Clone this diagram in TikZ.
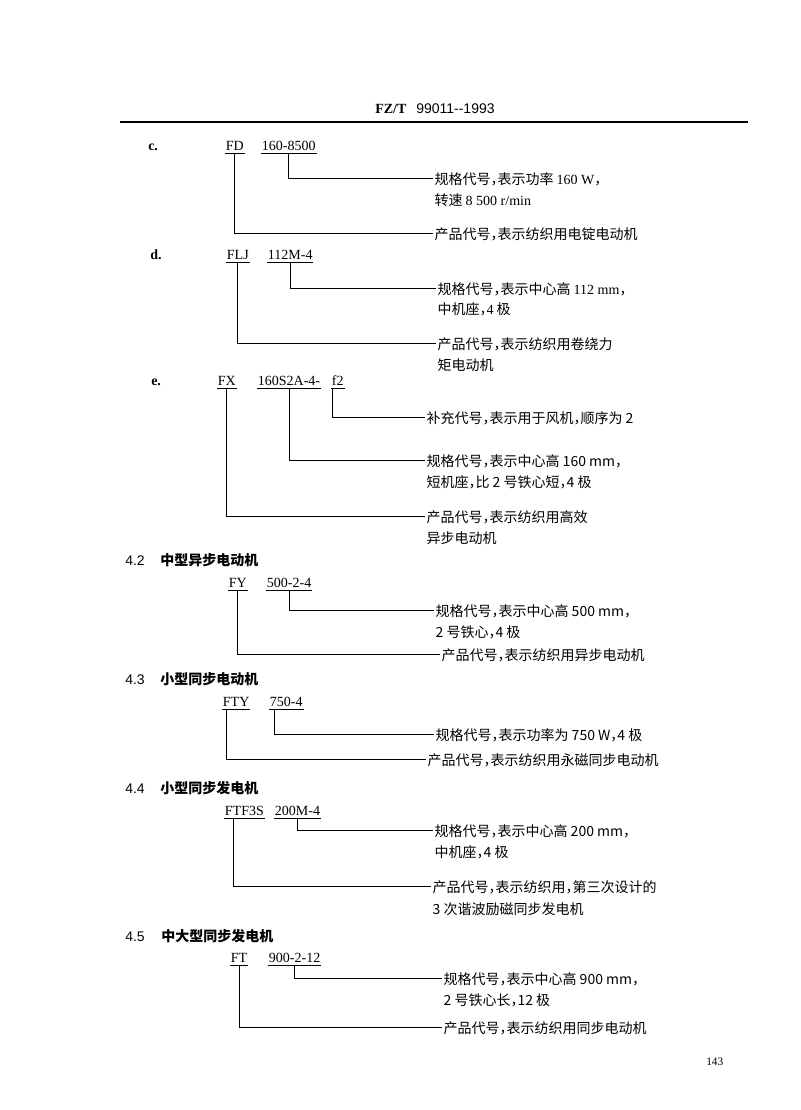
\documentclass[tikz,border=0pt]{standalone}
\usepackage{fontspec}
\setmainfont{Liberation Serif}
\newfontfamily\cjk{Noto Sans CJK SC}
\newfontfamily\latsans{Liberation Sans}
\usetikzlibrary{positioning}
% narrow full-width comma, as set in the standard
\newcommand{\dou}{，\kern-.5em}
\newcommand{\codebox}[3]{%
  \node[code] (#1) at (#2) {#3};
  \draw[uline] (#1.south west) -- (#1.south east);}
\tikzset{
    code/.style={anchor=base west, inner xsep=0.5pt, inner ysep=2.6pt, text depth=0pt,
      font=\fontsize{10.5}{12}\selectfont},
    note/.style={anchor=base west, inner sep=1pt, font=\cjk\fontsize{10.5}{12}\selectfont},
    itemno/.style={anchor=base west, inner sep=0pt, font=\bfseries\fontsize{10.5}{12}\selectfont},
    secno/.style={anchor=base west, inner sep=0pt, font=\latsans\fontsize{10.5}{12}\selectfont},
    sechead/.style={anchor=base west, inner sep=0pt, font=\cjk\bfseries\fontsize{10.5}{12}\selectfont},
    lead/.style={line width=0.6pt},
    uline/.style={line width=0.6pt},
}
\begin{document}
\begin{tikzpicture}[x=0.75pt, y=-0.75pt]
    \useasboundingbox (0,0) rectangle (800,1110);

    % page head
    \node[anchor=base west, inner sep=0pt, font=\bfseries\fontsize{10.5}{12}\selectfont] (hd-a) at (375,113) {FZ/T};
    \node[anchor=base west, inner sep=0pt, font=\latsans\fontsize{10.5}{12}\selectfont] (hd-b) at (416,113) {99011--1993};
    \draw[line width=1pt] (120,122) -- (748,122);

    % c.
    \node[itemno] (c-no) at (148,150) {c.};
    \codebox{c-fd}{225,150}{FD}
    \codebox{c-sc}{261,150}{160-8500}
    \node[note] (c-spec) at (433,184) {规格代号\dou 表示功率 {\rmfamily 160 W}\dou};
    \node[note] (c-spec2) at (433,205) {转速 {\rmfamily 8 500 r/min}};
    \node[note] (c-prod) at (433,239) {产品代号\dou 表示纺织用电锭电动机};
    \draw[lead] (c-sc.south) |- (c-spec.west);
    \draw[lead] (c-fd.south) |- (c-prod.west);

    % d.
    \node[itemno] (d-no) at (150,259) {d.};
    \codebox{d-flj}{226,259}{FLJ}
    \codebox{d-sc}{267,259}{112M-4}
    \node[note] (d-spec) at (436,294) {规格代号\dou 表示中心高 {\rmfamily 112 mm}\dou};
    \node[note] (d-spec2) at (436,314) {中机座\dou {\rmfamily 4} 极};
    \node[note] (d-prod) at (436,349) {产品代号\dou 表示纺织用卷绕力};
    \node[note] (d-prod2) at (436,370) {矩电动机};
    \draw[lead] (d-sc.south) |- (d-spec.west);
    \draw[lead] (d-flj.south) |- (d-prod.west);

    % e.
    \node[itemno] (e-no) at (151,385) {e.};
    \codebox{e-fx}{217,385}{FX}
    \codebox{e-sc}{257,385}{160S2A-4-}
    \codebox{e-f2}{331,385}{f2}
    \node[note] (e-sup) at (425,423) {补充代号\dou 表示用于风机\dou 顺序为 2};
    \node[note] (e-spec) at (425,466) {规格代号\dou 表示中心高 160 mm\dou};
    \node[note] (e-spec2) at (425,487) {短机座\dou 比 2 号铁心短\dou 4 极};
    \node[note] (e-prod) at (425,522) {产品代号\dou 表示纺织用高效};
    \node[note] (e-prod2) at (425,543) {异步电动机};
    \draw[lead] (e-f2.south west) ++(1.5,0) |- (e-sup.west);
    \draw[lead] (e-sc.south) |- (e-spec.west);
    \draw[lead] (e-fx.south) |- (e-prod.west);

    % 4.2
    \node[secno] (s42) at (125,565) {4.2};
    \node[sechead] (s42-t) at (160,565) {中型异步电动机};
    \codebox{fy}{228,587}{FY}
    \codebox{fy-sc}{266,587}{500-2-4}
    \node[note] (fy-spec) at (434,616) {规格代号\dou 表示中心高 500 mm\dou};
    \node[note] (fy-spec2) at (434,637) {2 号铁心\dou 4 极};
    \node[note] (fy-prod) at (440,660) {产品代号\dou 表示纺织用异步电动机};
    \draw[lead] (fy-sc.south) |- (fy-spec.west);
    \draw[lead] (fy.south) |- (fy-prod.west);

    % 4.3
    \node[secno] (s43) at (125,684) {4.3};
    \node[sechead] (s43-t) at (160,684) {小型同步电动机};
    \codebox{fty}{222,706}{FTY}
    \codebox{fty-sc}{269,706}{750-4}
    \node[note] (fty-spec) at (434,740) {规格代号\dou 表示功率为 750 W\dou 4 极};
    \node[note] (fty-prod) at (426,765) {产品代号\dou 表示纺织用永磁同步电动机};
    \draw[lead] (fty-sc.south west) ++(5,0) |- (fty-spec.west);
    \draw[lead] (fty.south west) ++(4,0) |- (fty-prod.west);

    % 4.4
    \node[secno] (s44) at (125,793) {4.4};
    \node[sechead] (s44-t) at (160,793) {小型同步发电机};
    \codebox{ftf}{224,815}{FTF3S}
    \codebox{ftf-sc}{274,815}{200M-4}
    \node[note] (ftf-spec) at (433,836) {规格代号\dou 表示中心高 200 mm\dou};
    \node[note] (ftf-spec2) at (433,857) {中机座\dou 4 极};
    \node[note] (ftf-prod) at (431,892) {产品代号\dou 表示纺织用\dou 第三次设计的};
    \node[note] (ftf-prod2) at (431,914) {3 次谐波励磁同步发电机};
    \draw[lead] (ftf-sc.south) |- (ftf-spec.west);
    \draw[lead] (ftf.south west) ++(9,0) |- (ftf-prod.west);

    % 4.5
    \node[secno] (s45) at (125,941) {4.5};
    \node[sechead] (s45-t) at (161,941) {中大型同步发电机};
    \codebox{ft}{230,962}{FT}
    \codebox{ft-sc}{268,962}{900-2-12}
    \node[note] (ft-spec) at (442,984) {规格代号\dou 表示中心高 900 mm\dou};
    \node[note] (ft-spec2) at (442,1005) {2 号铁心长\dou 12 极};
    \node[note] (ft-prod) at (442,1033) {产品代号\dou 表示纺织用同步电动机};
    \draw[lead] (ft-sc.south) |- (ft-spec.west);
    \draw[lead] (ft.south) |- (ft-prod.west);

    \node[anchor=base west, inner sep=0pt, font=\fontsize{8.5}{10}\selectfont] (pgno) at (706,1065) {143};
\end{tikzpicture}
\end{document}
